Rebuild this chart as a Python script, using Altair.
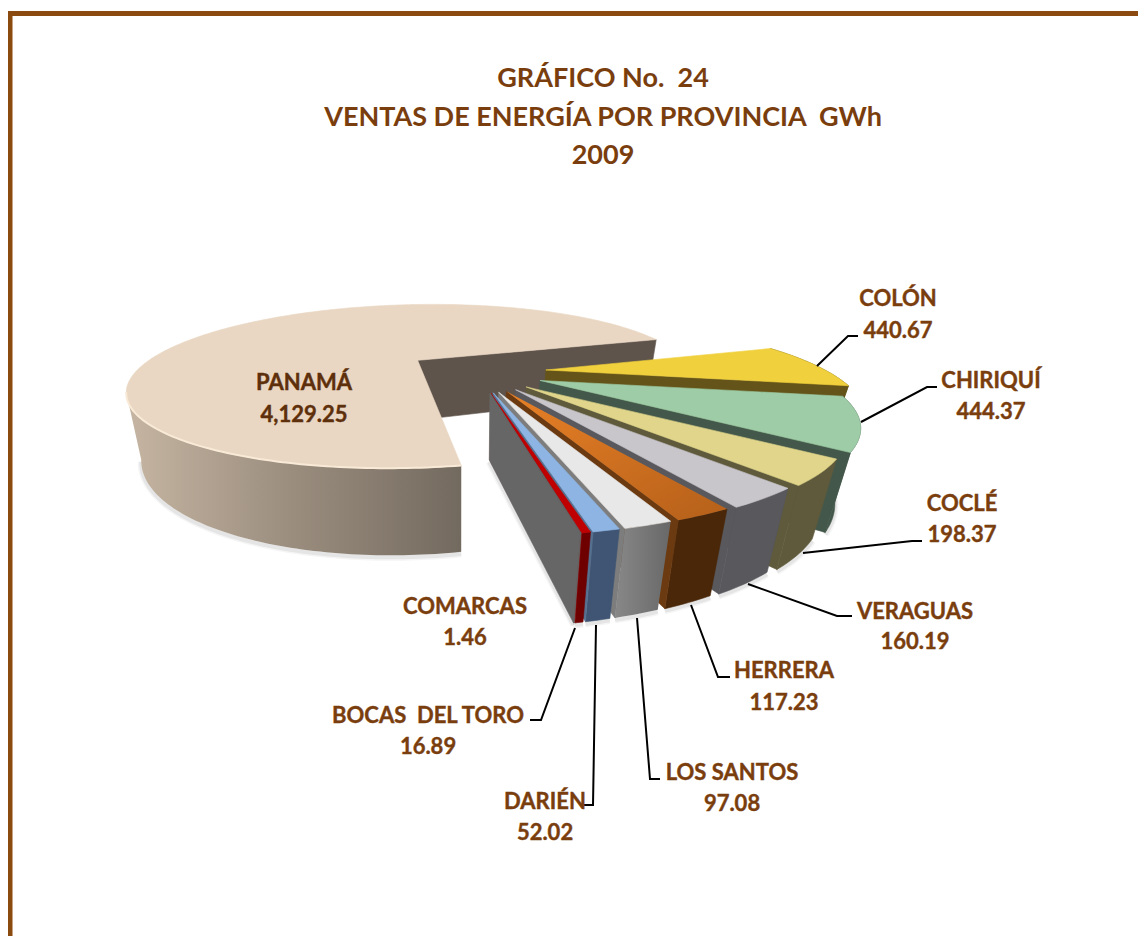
import math
import altair as alt
import pandas as pd

# ---- chart values ----
provinces = ["COLÓN", "CHIRIQUÍ", "COCLÉ", "VERAGUAS", "HERRERA", "LOS SANTOS",
             "DARIÉN", "BOCAS\u00a0\u00a0DEL TORO", "COMARCAS", "PANAMÁ"]
sales = [440.67, 444.37, 198.37, 160.19, 117.23, 97.08, 52.02, 16.89, 1.46, 4129.25]
value_labels = ["440.67", "444.37", "198.37", "160.19", "117.23", "97.08",
                "52.02", "16.89", "1.46", "4,129.25"]
title_lines = ["GRÁFICO No.\u00a0\u00a024", "VENTAS DE ENERGÍA POR PROVINCIA\u00a0\u00a0GWh", "2009"]

# ---- styles ----
top_colors = ["#F0D03C", "#9DCCA6", "#E0D58A", "#C8C5CB", "#C96C1E", "#E8E8E8",
              "#8DB4E2", "#C00000", "#666666", "#E9D7C3"]
end_colors = ["#645419", "#43584A", "#5F5A3C", "#58585D", "#6B3A10", "#7D7D7D",
              "#56708F", "#8A0000", "#666666", "#5F544C"]
rim_colors = ["#645419", "#43584A", "#5F5A3C", "#58585D", "#4A2709", "#757575",
              "#3F5573", "#6E0000", "#666666", "#8A7F72"]
TEXT = "#7A3E0E"
FRAME = "#8B4A0F"

# ---- layout of the labels: centre x, y of name, y of value ----
label_pos = {
    "COLÓN": (898, 298.5, 330.5), "CHIRIQUÍ": (991, 380.5, 411.5), "COCLÉ": (962, 503.5, 534.5),
    "VERAGUAS": (915, 611.5, 641.5), "HERRERA": (784, 670.5, 702.5),
    "LOS SANTOS": (732, 772.5, 803.5), "DARIÉN": (545, 801.5, 832.5),
    "BOCAS\u00a0\u00a0DEL TORO": (428, 715.5, 746.5),
    "COMARCAS": (465, 606.5, 637.5), "PANAMÁ": (304, 382.5, 414.5),
}
leaders = {
    "COLÓN": [(817, 366), (848, 336), (858, 336)],
    "CHIRIQUÍ": [(861, 422), (927, 387), (937, 387)],
    "COCLÉ": [(803, 553), (912, 541), (922, 541)],
    "VERAGUAS": [(748, 584), (837, 616), (852, 616)],
    "HERRERA": [(691, 605), (718, 677), (730, 677)],
    "LOS SANTOS": [(637, 618), (650, 779), (660, 779)],
    "DARIÉN": [(596, 625), (593, 805), (584, 805)],
    "BOCAS": [(575, 628), (541, 720), (530, 720)],
}

# ---- projection of the tilted pie ----
A0 = -18.0
CX, CY, EX, EY = 477.0, 371.5, 69.0, 21.9
R, S, K, K3 = 279.0, 82.0, 0.43, 0.12
HB, K2, C, XREF = 67.0, 0.26, 0.068, 480.0
PR, PS, PK, PEU, PEV, PH, PC, PXREF = 280.0, 80.0, 0.33, -0.24, -0.127, 62.0, 0.045, 460.0

total = sum(sales)
spans = [360.0 * v / total for v in sales]
starts = [A0 + sum(spans[:i]) for i in range(len(spans))]


def frange(a, b, step=1.0):
    n = max(2, int(abs(b - a) / step) + 2)
    return [a + (b - a) * i / (n - 1) for i in range(n)]


def vertex(mid):
    m = math.radians(mid)
    return CX + EX * math.cos(m), CY + EY * math.sin(m)


def rim_pt(vx, vy, a):
    r = math.radians(a)
    s = math.sin(r)
    w = 1 - K * s - K3 * s * (1 - s)
    return vx + R * math.cos(r) / w, vy + S * s / w, s


def drop(x, y, s):
    return x - C * (x - XREF), y + HB / (1 - K2 * s)


def p_rim(vx, vy, a):
    r = math.radians(a)
    u, v = math.cos(r) + PEU, math.sin(r) + PEV
    w = 1 - PK * v
    w0 = 1 - PK * PEV
    return vx + PR * (u / w - PEU / w0), vy + PS * (v / w - PEV / w0), w


def p_drop(x, y, w):
    return x - PC * (x - PXREF), y + PH / w


polys = []  # (points, fill)
shadows = []
for i in range(9):
    a1, a2 = starts[i], starts[i] + spans[i]
    vx, vy = vertex((a1 + a2) / 2)
    rim = [rim_pt(vx, vy, a) for a in frange(a1, a2)]
    top_r = [(x, y) for x, y, s in rim]
    bot_r = [drop(x, y, s) for x, y, s in rim]
    if i >= 1:
        shadows.append(bot_r)
    if i == 8:
        shadows.append([drop(vx, vy, 0), bot_r[-1]])
    rim_fill = rim_colors[i]
    if provinces[i] == "LOS SANTOS":
        rim_fill = alt.Gradient(gradient="linear", x1=0, x2=1, y1=0, y2=0,
                                stops=[alt.GradientStop(color="#888888", offset=0),
                                       alt.GradientStop(color="#686868", offset=1)])
    polys.append((top_r + bot_r[::-1], rim_fill))
    polys.append(([(vx, vy), top_r[-1], bot_r[-1], drop(vx, vy, 0)], end_colors[i]))
    top_fill = top_colors[i]
    if provinces[i] == "HERRERA":
        top_fill = alt.Gradient(gradient="linear", x1=0, x2=1, y1=0, y2=1,
                                stops=[alt.GradientStop(color="#E88026", offset=0),
                                       alt.GradientStop(color="#B5601A", offset=1)])
    polys.append(([(vx, vy)] + top_r, top_fill))

# Panamá, drawn first because it lies behind everything
a1, a2 = starts[9], starts[9] + spans[9]
vx, vy = vertex((a1 + a2) / 2)
corner = p_rim(vx, vy, a2)
v_w = 1 - PK * PEV
panama = [
    ([(vx, vy), corner[:2], p_drop(*corner), p_drop(vx, vy, v_w)], end_colors[9])
]
all_front = [p_rim(vx, vy, a) for a in frange(a1, a1 + 140)]
left_idx = min(range(len(all_front)), key=lambda j: all_front[j][0])
front = all_front[:left_idx + 1]
bottom = [p_drop(x, y, w) for x, y, w in front]
shadows.append(bottom)
panama.append((
    [(x, y) for x, y, w in front] + bottom[::-1],
    alt.Gradient(gradient="linear", x1=1, x2=0, y1=0, y2=0,
                 stops=[alt.GradientStop(color="#736A5F", offset=0),
                        alt.GradientStop(color="#9A8D7E", offset=0.5),
                        alt.GradientStop(color="#C6B5A2", offset=1)]),
))
panama.append(([(vx, vy)] + [p_rim(vx, vy, a)[:2] for a in frange(a1, a2)], top_colors[9]))
polys = panama + polys

X = alt.X("x:Q", scale=alt.Scale(domain=[8, 1138], nice=False, zero=False), axis=None)
Y = alt.Y("y:Q", scale=alt.Scale(domain=[936, 8], nice=False, zero=False), axis=None)


def poly_layer(points, fill):
    pts = list(points) + [points[0]]
    df = pd.DataFrame({"x": [p[0] for p in pts], "y": [p[1] for p in pts],
                       "i": range(len(pts))})
    kw = {"stroke": fill, "strokeWidth": 0.6} if isinstance(fill, str) else {"strokeWidth": 0}
    return alt.Chart(df).mark_line(fill=fill, interpolate="linear", **kw).encode(
        x=X, y=Y, order="i:Q")


def shadow_layers():
    out = []
    for pts in shadows:
        df = pd.DataFrame({"x": [p[0] for p in pts], "y": [p[1] + 2 for p in pts],
                           "i": range(len(pts))})
        for width, op in ((7, 0.06), (4, 0.10)):
            out.append(alt.Chart(df).mark_line(stroke="#555555", strokeWidth=width,
                                               opacity=op).encode(x=X, y=Y, order="i:Q"))
    return out


layers = shadow_layers() + [poly_layer(p, f) for p, f in polys]

# pale edge along the front of Panamá
edge = pd.DataFrame({"x": [p[0] for p in front], "y": [p[1] for p in front],
                     "i": range(len(front))})
layers.append(alt.Chart(edge).mark_line(stroke="#F8EAD6", strokeWidth=2).encode(
    x=X, y=Y, order="i:Q"))

# leader lines
rows = [{"name": n, "i": j, "x": p[0], "y": p[1]}
        for n, pts in leaders.items() for j, p in enumerate(pts)]
layers.append(alt.Chart(pd.DataFrame(rows)).mark_line(stroke="#000000", strokeWidth=2).encode(
    x=X, y=Y, detail="name:N", order="i:Q"))

# labels
lab = []
for n, v in zip(provinces, value_labels):
    cx, y1, y2 = label_pos[n]
    col = "#5E2F0B" if n == "PANAMÁ" else TEXT
    lab.append({"t": n, "x": cx, "y": y1, "c": col})
    lab.append({"t": v, "x": cx, "y": y2, "c": col})
layers.append(alt.Chart(pd.DataFrame(lab)).mark_text(
    font="Lato", fontWeight="bold", fontSize=22, align="center", baseline="middle",
    strokeWidth=0.4
).encode(x=X, y=Y, text="t:N",
         color=alt.Color("c:N", scale=None, legend=None),
         stroke=alt.Color("c:N", scale=None, legend=None)))

# frame
frame_top = pd.DataFrame({"x": [8, 1138], "y": [13.5, 13.5], "i": [0, 1]})
frame_left = pd.DataFrame({"x": [10, 10], "y": [11, 936], "i": [0, 1]})
for d in (frame_top, frame_left):
    layers.append(alt.Chart(d).mark_line(stroke=FRAME, strokeWidth=5, clip=True).encode(
        x=X, y=Y, order="i:Q"))

chart = alt.layer(*layers).properties(
    width=1130, height=928, padding=0,
    autosize=alt.AutoSizeParams(type="none"),
    title=alt.TitleParams(text=title_lines, anchor="middle", dx=30, offset=-162,
                          font="Lato", fontWeight="bold", fontSize=27, lineHeight=38.5,
                          color=TEXT),
).configure_view(stroke=None)

chart.save("out.html", embed_options={"renderer": "svg", "actions": False})
